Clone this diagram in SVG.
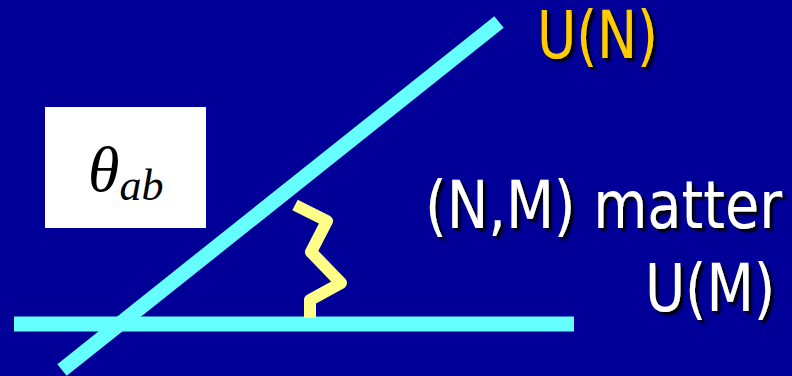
<svg xmlns="http://www.w3.org/2000/svg" width="792" height="376" viewBox="0 0 792 376">
<defs>
<filter id="shadow" x="-10%" y="-20%" width="130%" height="150%">
<feDropShadow dx="3" dy="3" stdDeviation="1" flood-color="#000000" flood-opacity="1"/>
</filter>
</defs>
<style>
.ln{stroke:#66FFFF;stroke-width:15;fill:none}
.zz{stroke:#FFFF88;stroke-width:12;fill:none;stroke-linejoin:round}
.t{font-family:"DejaVu Sans","Liberation Sans",sans-serif;font-size:66px;filter:url(#shadow)}
.m{font-family:"Liberation Serif","DejaVu Serif",serif;font-style:italic;fill:#000}
</style>
<rect width="792" height="376" fill="#000099"/>
<g id="connectors">
<line class="ln" x1="14" y1="324" x2="574" y2="324"/>
<line class="ln" x1="62" y1="370" x2="499" y2="22"/>
<polyline class="zz" points="295,205 327,221 311,252 341,283 310,300 310,318"/>
</g>
<g id="theta-box">
<rect x="45" y="107" width="161" height="121" fill="#FFFFFF"/>
<text class="m" x="88" y="191" font-size="64">θ<tspan font-size="44" dy="9">ab</tspan></text>
</g>
<g id="UN">
<text class="t" x="537" y="58" fill="#FFCC00" textLength="121" lengthAdjust="spacingAndGlyphs">U(N)</text>
</g>
<g id="NM">
<text class="t" x="425" y="228" fill="#FFFFFF" textLength="357" lengthAdjust="spacingAndGlyphs">(N,M) matter</text>
</g>
<g id="UM">
<text class="t" x="645" y="311" fill="#FFFFFF" textLength="130" lengthAdjust="spacingAndGlyphs">U(M)</text>
</g>
</svg>
